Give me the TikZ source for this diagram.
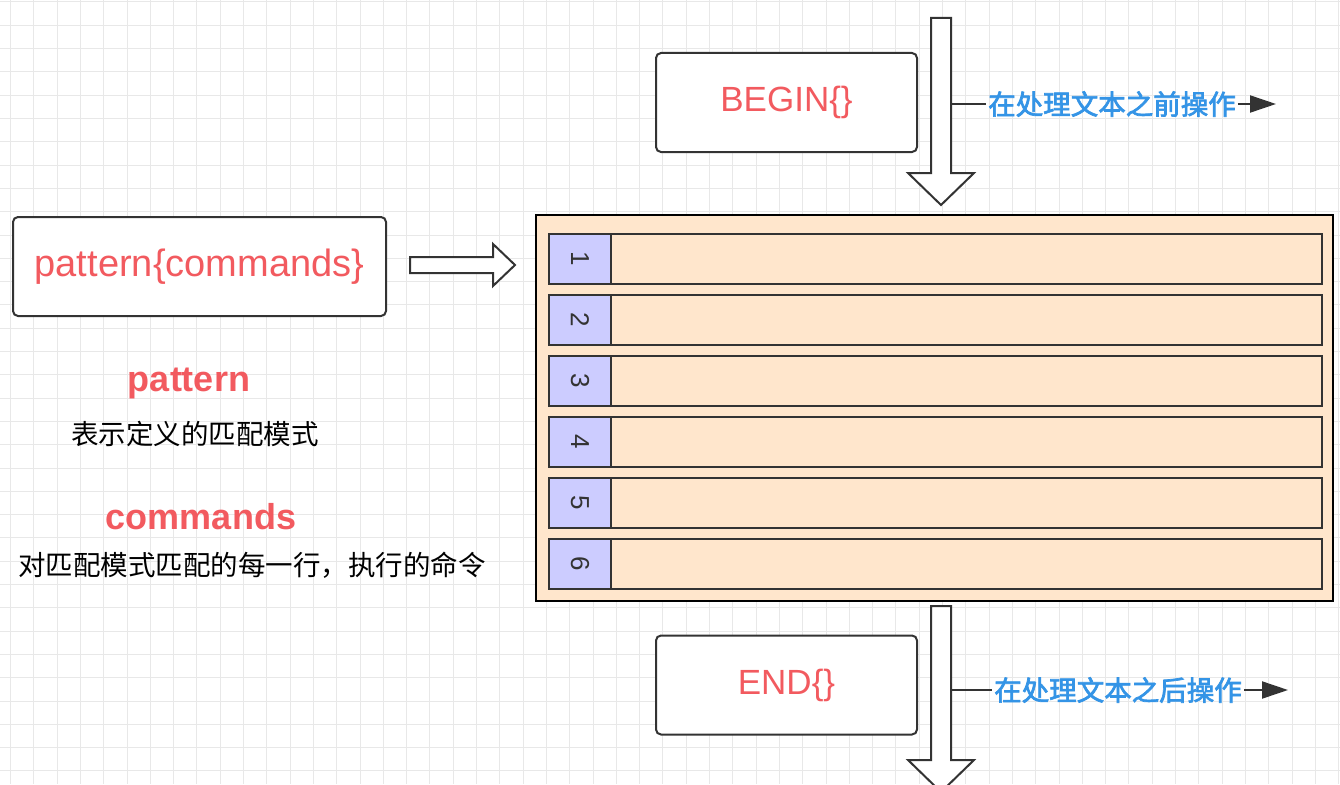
\documentclass[tikz,border=0pt]{standalone}
\usepackage{fontspec}
\setmainfont{Liberation Sans}
\newfontfamily\cjk[AutoFakeBold=2.5]{Noto Sans CJK SC}
\usetikzlibrary{arrows.meta,positioning}

\definecolor{textred}{RGB}{242,90,95}
\definecolor{textblue}{RGB}{52,148,230}
\definecolor{rowfill}{RGB}{255,230,204}
\definecolor{numfill}{RGB}{204,204,255}
\definecolor{linegray}{RGB}{51,51,51}
\definecolor{gridgray}{RGB}{232,232,232}

\tikzset{
  roundbox/.style={draw=linegray, line width=2pt, rounded corners=5pt, fill=white,
    minimum width=261pt, minimum height=99pt, text=textred,
    font=\fontsize{35}{40}\selectfont},
  hollow/.style={draw=linegray, line width=2pt, fill=white, line join=miter},
  keyword/.style={text=textred, font=\bfseries\fontsize{36}{40}\selectfont},
  note/.style={font=\cjk\fontsize{27.5}{30}\selectfont},
  stage/.style={text=textblue, inner sep=2pt, font=\cjk\bfseries\fontsize{27.5}{30}\selectfont},
  rowbox/.style={draw=linegray, line width=2pt, fill=rowfill, anchor=north west,
    minimum width=773pt, minimum height=50pt, inner sep=0pt},
  numbox/.style={draw=linegray, line width=2pt, fill=numfill, anchor=north west,
    minimum width=62pt, minimum height=50pt, inner sep=0pt, text=linegray},
  tip/.style={draw=linegray, line width=2pt, -{Triangle[length=26pt,width=17pt]}}
}

\begin{document}
\begin{tikzpicture}[x=1pt,y=-1pt]
\useasboundingbox (0,0) rectangle (1340,784);
\fill[white] (0,0) rectangle (1340,784);

% background grid
\foreach \i in {0,...,57}
  \draw[gridgray, line width=1pt] ({10.5+23.3*\i},0) -- ++(0,784);
\foreach \j in {0,...,33}
  \draw[gridgray, line width=1pt] (0,{2+23.3*\j}) -- ++(1340,0);

% hollow arrows
\draw[hollow] (931,18) -- (951,18) -- (951,173) -- (974,173) -- (941,205)
  -- (908,173) -- (931,173) -- cycle;
\draw[hollow] (931,606) -- (951,606) -- (951,760) -- (974,760) -- (941,792)
  -- (908,760) -- (931,760) -- cycle;
\draw[hollow] (410,257) -- (493,257) -- (493,244) -- (515,265) -- (493,286)
  -- (493,273) -- (410,273) -- cycle;

% boxes
\node[roundbox] (begin) at (786.5,102.5) {BEGIN\{\}};
\node[roundbox] (end) at (786.5,685) {END\{\}};
\node[roundbox, minimum width=373pt, font=\fontsize{38}{42}\selectfont] (pattern) at (199.5,266.5) {pattern\{commands\}};

% input buffer with lines
\node[draw=black, line width=2pt, fill=rowfill, minimum width=797pt, minimum height=386pt] (buffer) at (934.5,408) {};
\foreach \n in {1,...,6} {
  \node[rowbox] (row\n) at (548,{233+61*(\n-1)}) {};
  \node[numbox] (num\n) at (548,{233+61*(\n-1)}) {\rotatebox{-90}{\fontsize{26}{30}\selectfont\n}};
}

% stage labels
\coordinate (beginout) at (951,104);
\node[stage] (before) at (1112,104) {在处理文本之前操作};
\coordinate (beforeend) at (1276,104);
\draw[linegray, line width=2pt] (beginout) -- (before.west);
\draw[tip] (before.east) -- (beforeend);

\coordinate (endout) at (951,690);
\node[stage] (after) at (1118,690) {在处理文本之后操作};
\coordinate (afterend) at (1288,690);
\draw[linegray, line width=2pt] (endout) -- (after.west);
\draw[tip] (after.east) -- (afterend);

% explanations
\node[keyword] (kwpattern) at (189,383) {pattern};
\node[note] (notepattern) at (195,434) {表示定义的匹配模式};
\node[keyword] (kwcommands) at (201,517) {commands};
\node[note] (notecommands) at (252,565) {对匹配模式匹配的每一行，执行的命令};
\end{tikzpicture}
\end{document}
